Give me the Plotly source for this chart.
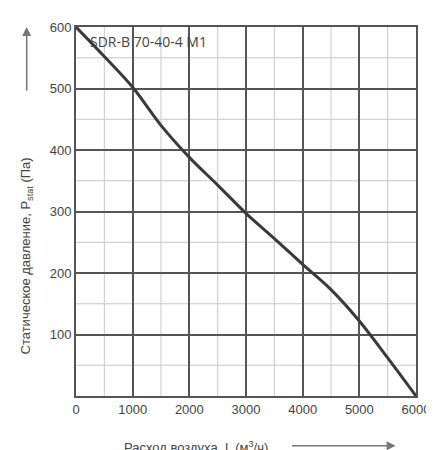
import plotly.graph_objects as go

flow = [0, 500, 1000, 1500, 2000, 2500, 3000, 3500, 4000, 4500, 5000, 5500, 6000]
pressure = [600, 552, 502, 440, 388, 343, 297, 256, 214, 173, 122, 62, 0]

x_ticks = [0, 1000, 2000, 3000, 4000, 5000, 6000]
y_ticks = [100, 200, 300, 400, 500, 600]

fig = go.Figure()

# минорная сетка
for v in [500, 1500, 2500, 3500, 4500, 5500]:
    fig.add_shape(type='line', x0=v, x1=v, y0=0, y1=600, line=dict(color='#c8c8c8', width=1), layer='below')
for v in [50, 150, 250, 350, 450, 550]:
    fig.add_shape(type='line', x0=0, x1=6000, y0=v, y1=v, line=dict(color='#c8c8c8', width=1), layer='below')

fig.add_trace(go.Scatter(x=flow, y=pressure, mode='lines', line=dict(color='#3a3a3a', width=3, shape='spline'),
                         showlegend=False))

fig.update_xaxes(range=[0, 6000], tickvals=x_ticks, showgrid=True, gridcolor='#555', gridwidth=1.5,
                 showline=True, linecolor='#555', linewidth=2, mirror=True, zeroline=False,
                 tickfont=dict(family='Liberation Sans', size=13, color='#444'))
fig.update_yaxes(range=[0, 600], tickvals=y_ticks, showgrid=True, gridcolor='#555', gridwidth=1.5,
                 showline=True, linecolor='#555', linewidth=2, mirror=True, zeroline=False,
                 tickfont=dict(family='Liberation Sans', size=13, color='#444'))

fig.add_annotation(x=220, y=595, xref='x', yref='y', text='SDR-B 70-40-4 M1', showarrow=False,
                   xanchor='left', yanchor='top', font=dict(family='Open Sans', size=14, color='#444'))
fig.add_annotation(x=0.57, y=-0.11, xref='paper', yref='paper', text='Расход воздуха, L (м<sup>3</sup>/ч)',
                   showarrow=False, xanchor='right', yanchor='top',
                   font=dict(family='Liberation Sans', size=13, color='#444'))
fig.add_annotation(x=0.94, y=-0.135, ax=-105, ay=0, xref='paper', yref='paper',
                   text='', showarrow=True, arrowhead=2, arrowsize=1.2, arrowwidth=1.5, arrowcolor='#777')
fig.add_annotation(x=-0.145, y=0.38, xref='paper', yref='paper',
                   text='Статическое давление, P<sub>stat</sub> (Па)', textangle=-90,
                   showarrow=False, xanchor='center', yanchor='middle',
                   font=dict(family='Liberation Sans', size=13, color='#444'))
fig.add_annotation(x=-0.145, y=1.0, ax=0, ay=65, xref='paper', yref='paper',
                   text='', showarrow=True, arrowhead=2, arrowsize=1.2, arrowwidth=1.5, arrowcolor='#777')

fig.update_layout(width=434, height=450, margin=dict(l=68, r=25, t=16, b=62),
                  plot_bgcolor='white', paper_bgcolor='white')

fig.write_html("out.html")
